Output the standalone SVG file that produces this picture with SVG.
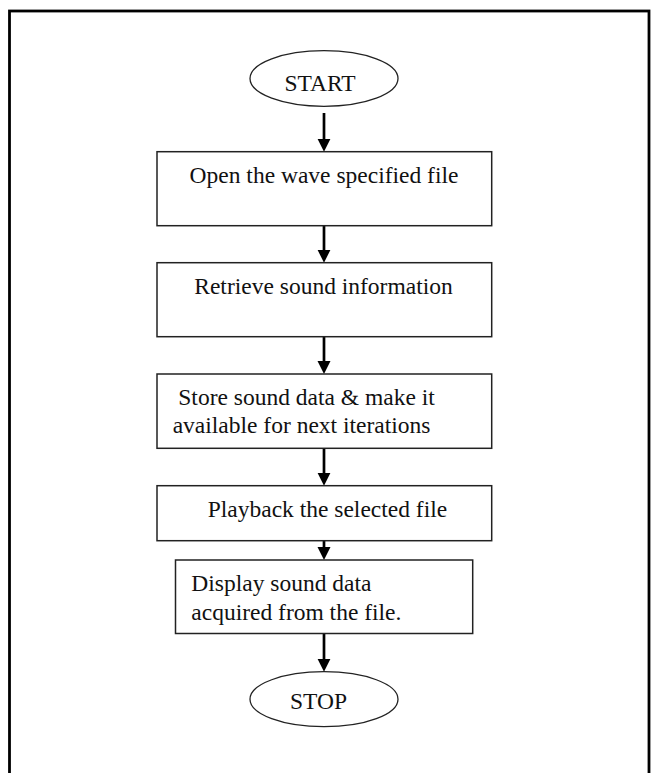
<svg xmlns="http://www.w3.org/2000/svg" width="655" height="773" viewBox="0 0 655 773">
  <style>
    .frame { fill: none; stroke: #000; stroke-width: 2.8; }
    .box { fill: #fff; stroke: #222; stroke-width: 1.5; }
    .term { fill: #fff; stroke: #222; stroke-width: 1.3; }
    .lbl { font-family: "Liberation Serif", "Times New Roman", serif; font-size: 23.5px; fill: #111; }
    .mid { text-anchor: middle; }
    .flow { stroke: #000; stroke-width: 2.7; fill: none; marker-end: url(#head); }
  </style>
  <defs>
    <marker id="head" markerUnits="userSpaceOnUse" markerWidth="14" markerHeight="14" refX="5" refY="6.5" orient="auto">
      <path d="M0,0 L13,6.5 L0,13 Z" fill="#000"/>
    </marker>
  </defs>

  <rect width="655" height="773" fill="#fff"/>
  <!-- outer frame, open at the bottom edge -->
  <rect class="frame" x="9.5" y="11" width="639.5" height="800"/>

  <g id="connectors">
    <line class="flow" x1="324" y1="113" x2="324" y2="143.7"/>
    <line class="flow" x1="324" y1="225.7" x2="324" y2="254.7"/>
    <line class="flow" x1="324" y1="336.7" x2="324" y2="366"/>
    <line class="flow" x1="324" y1="448.3" x2="324" y2="477.7"/>
    <line class="flow" x1="324" y1="540.7" x2="324" y2="552"/>
    <line class="flow" x1="324" y1="633.3" x2="324" y2="663.7"/>
  </g>

  <g id="start">
    <ellipse class="term" cx="324" cy="78.5" rx="74" ry="27.8"/>
    <text class="lbl mid" x="320" y="90.7">START</text>
  </g>

  <g id="open-file">
    <rect class="box" x="157" y="151.7" width="334.7" height="74"/>
    <text class="lbl mid" x="324" y="183.3">Open the wave specified file</text>
  </g>

  <g id="retrieve-info">
    <rect class="box" x="157" y="262.7" width="334.7" height="74"/>
    <text class="lbl mid" x="323.5" y="294">Retrieve sound information</text>
  </g>

  <g id="store-data">
    <rect class="box" x="157" y="374" width="334.7" height="74.3"/>
    <text class="lbl" x="178.3" y="405">Store sound data &amp; make it</text>
    <text class="lbl" x="172.7" y="433.3">available for next iterations</text>
  </g>

  <g id="playback">
    <rect class="box" x="157" y="485.7" width="334.7" height="55"/>
    <text class="lbl" x="207.7" y="516.7">Playback the selected file</text>
  </g>

  <g id="display-data">
    <rect class="box" x="175.5" y="560" width="297.2" height="73.5"/>
    <text class="lbl" x="191.3" y="590.7">Display sound data</text>
    <text class="lbl" x="191.3" y="620">acquired from the file.</text>
  </g>

  <g id="stop">
    <ellipse class="term" cx="324" cy="699.2" rx="74" ry="27.5"/>
    <text class="lbl mid" x="318.5" y="709.3">STOP</text>
  </g>
</svg>
